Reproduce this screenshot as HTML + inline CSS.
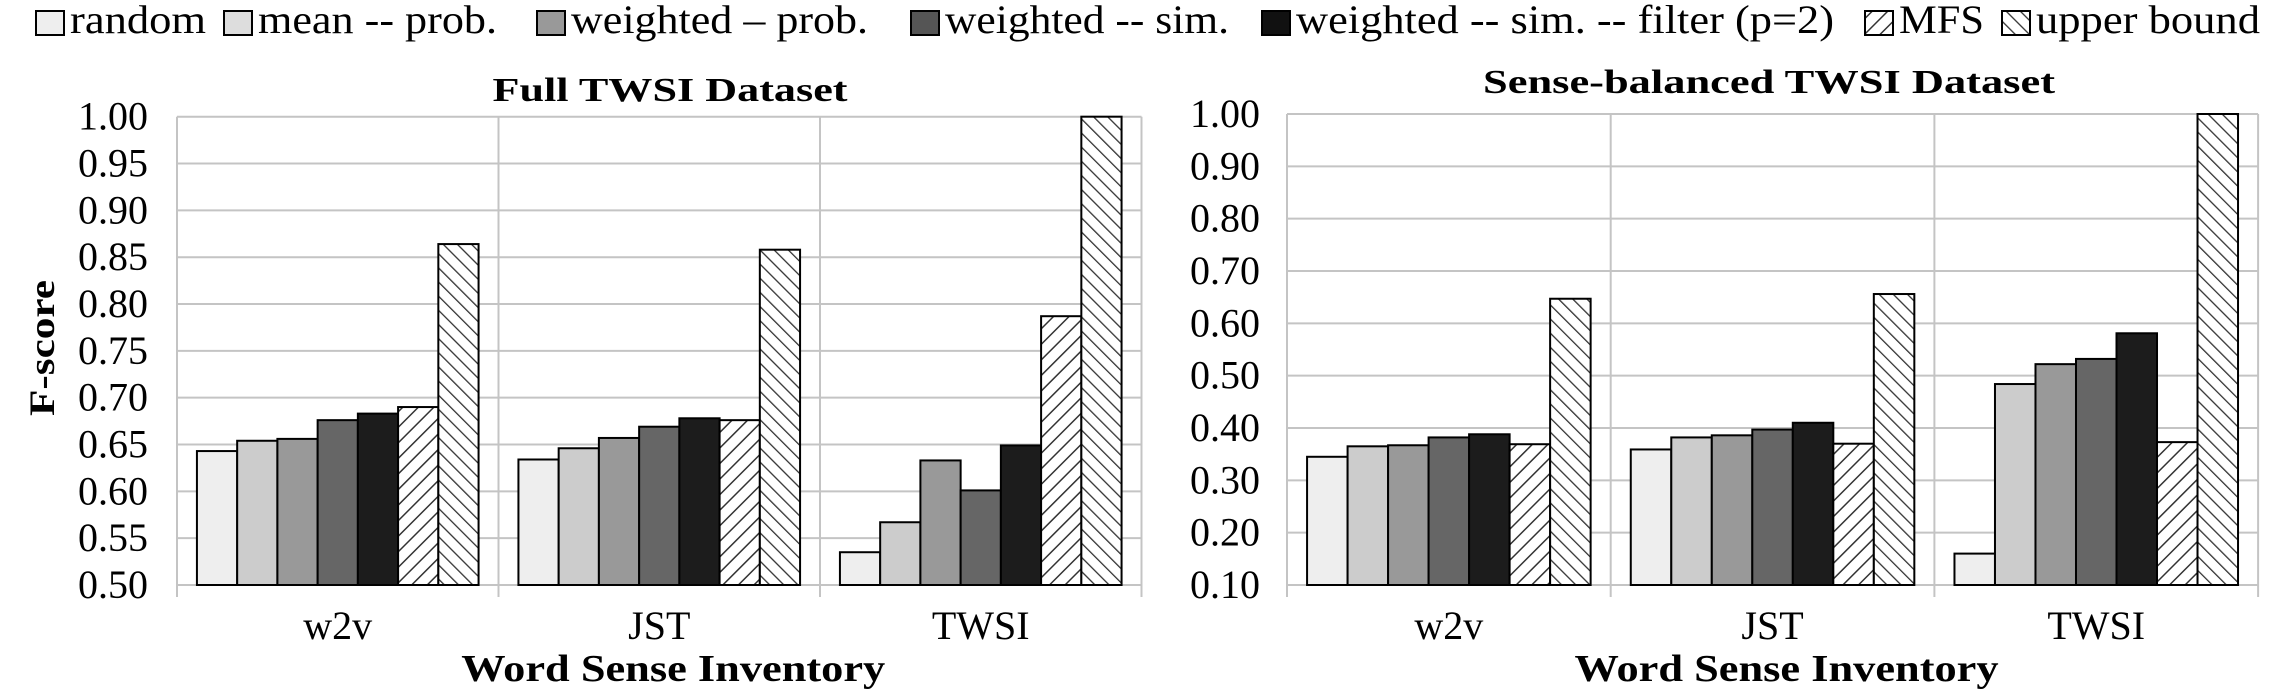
<!DOCTYPE html>
<html><head><meta charset="utf-8"><style>
html,body{margin:0;padding:0;background:#fff}
svg{display:block;font-family:"Liberation Serif",serif}
</style></head><body>
<svg id="chart" width="2270" height="698" viewBox="0 0 2270 698" xmlns="http://www.w3.org/2000/svg">
<defs>
<pattern id="hMFS" patternUnits="userSpaceOnUse" width="11" height="11" patternTransform="rotate(45)">
<rect width="11" height="11" fill="#fff"/><line x1="0" y1="0" x2="0" y2="11" stroke="#333" stroke-width="3"/></pattern>
<pattern id="hUB" patternUnits="userSpaceOnUse" width="10" height="10" patternTransform="rotate(-45)">
<rect width="10" height="10" fill="#fff"/><line x1="0" y1="0" x2="0" y2="10" stroke="#333" stroke-width="2.6"/></pattern>
</defs>
<g id="legend"></g>
<g id="left"></g>
<g id="right"></g>
</svg>
<script>
const categories = ["w2v","JST","TWSI"];
const seriesNames = ["random","mean -- prob.","weighted \u2013 prob.","weighted -- sim.","weighted -- sim. -- filter (p=2)","MFS","upper bound"];
const fullRandom   = [0.643,0.634,0.535];
const fullMean     = [0.654,0.646,0.567];
const fullWProb    = [0.656,0.657,0.633];
const fullWSim     = [0.676,0.669,0.601];
const fullWFilter  = [0.683,0.678,0.649];
const fullMFS      = [0.690,0.676,0.787];
const fullUpper    = [0.864,0.858,1.000];
const balRandom    = [0.345,0.359,0.160];
const balMean      = [0.365,0.382,0.484];
const balWProb     = [0.367,0.386,0.522];
const balWSim      = [0.382,0.397,0.532];
const balWFilter   = [0.388,0.410,0.581];
const balMFS       = [0.369,0.370,0.373];
const balUpper     = [0.647,0.656,1.000];
const fullTicks = ["0.50","0.55","0.60","0.65","0.70","0.75","0.80","0.85","0.90","0.95","1.00"];
const balTicks  = ["0.10","0.20","0.30","0.40","0.50","0.60","0.70","0.80","0.90","1.00"];

const fills = ["#eeeeee","#cccccc","#999999","#666666","#1c1c1c","url(#hMFS)","url(#hUB)"];
const legFills = ["#eeeeee","#dddddd","#999999","#555555","#111111","url(#hMFS)","url(#hUB)"];
const NS="http://www.w3.org/2000/svg";
function mk(tag,attrs,parent){const e=document.createElementNS(NS,tag);for(const k in attrs)e.setAttribute(k,attrs[k]);parent.appendChild(e);return e;}
function txt(parent,x,y,s,size,anchor,bold,len){
  const a={x:x,y:y,"font-size":size,"text-anchor":anchor,"font-weight":bold?"bold":"normal",fill:"#000"};
  if(len){a.textLength=len;a.lengthAdjust="spacingAndGlyphs";}
  const t=mk("text",a,parent);
  t.textContent=s;return t;}

// legend
const leg=document.getElementById("legend");
const legX=[36,224,537,911,1262,1865,2002];
const legLen=[136,239,297,284,538,85,224];
seriesNames.forEach((n,i)=>{
  const g=mk("g",{},leg);
  
  
  mk("rect",{x:legX[i],y:11,width:28,height:24,fill:legFills[i],stroke:"#000","stroke-width":2},g);
  txt(g,legX[i]+34,33,n,40,"start",false,legLen[i]);
});

function drawChart(gid,series,ticks,x0,catW,yTop,yBot,vMin,vMax,title,titleX,titleY,titleLen,tickX){
  const g=document.getElementById(gid);
  const y=v=>yBot-(v-vMin)/(vMax-vMin)*(yBot-yTop);
  const xr=x0+catW*categories.length;
  ticks.forEach(t=>{
    const v=parseFloat(t);
    const l=mk("line",{x1:x0,x2:xr,y1:y(v),y2:y(v),stroke:"#c4c4c4","stroke-width":2},g);
    
    
    const tl=txt(g,tickX,y(v)+13,t,40,"end",false,0);
    
    
  });
  for(let c=0;c<=categories.length;c++){
    mk("line",{x1:x0+c*catW,x2:x0+c*catW,y1:yTop,y2:yBot+12,stroke:"#c4c4c4","stroke-width":2},g);
  }
  mk("line",{x1:x0,x2:xr,y1:yBot,y2:yBot,stroke:"#c4c4c4","stroke-width":2},g);
  const pad=catW*0.062, bw=(catW-2*pad)/series.length;
  categories.forEach((cat,c)=>{
    series.forEach((s,i)=>{
      const bx=x0+c*catW+pad+i*bw;
      const r=mk("rect",{x:bx,y:y(s[c]),width:bw,height:yBot-y(s[c]),fill:fills[i],stroke:"#000","stroke-width":2},g);
      
      
    });
    const cl=txt(g,x0+c*catW+catW/2,639,cat,40,"middle",false,0);
    
    
  });
  const tt=txt(g,titleX,titleY,title,34,"middle",true,titleLen);
  
  
  const xt=txt(g,x0+catW*1.5+14,681,"Word Sense Inventory",38,"middle",true,424);
  
  
}
drawChart("left",[fullRandom,fullMean,fullWProb,fullWSim,fullWFilter,fullMFS,fullUpper],fullTicks,177,321.5,116.7,585,0.5,1.0,"Full TWSI Dataset",670,101,355,148);
drawChart("right",[balRandom,balMean,balWProb,balWSim,balWFilter,balMFS,balUpper],balTicks,1287,323.7,114,585,0.1,1.0,"Sense-balanced TWSI Dataset",1769,93,572,1260);
const yt=mk("text",{transform:"translate(54,348) rotate(-90)","font-size":36,"font-weight":"bold","text-anchor":"middle",textLength:136,lengthAdjust:"spacingAndGlyphs"},document.getElementById("left"));
yt.textContent="F-score";


</script>
</body></html>
